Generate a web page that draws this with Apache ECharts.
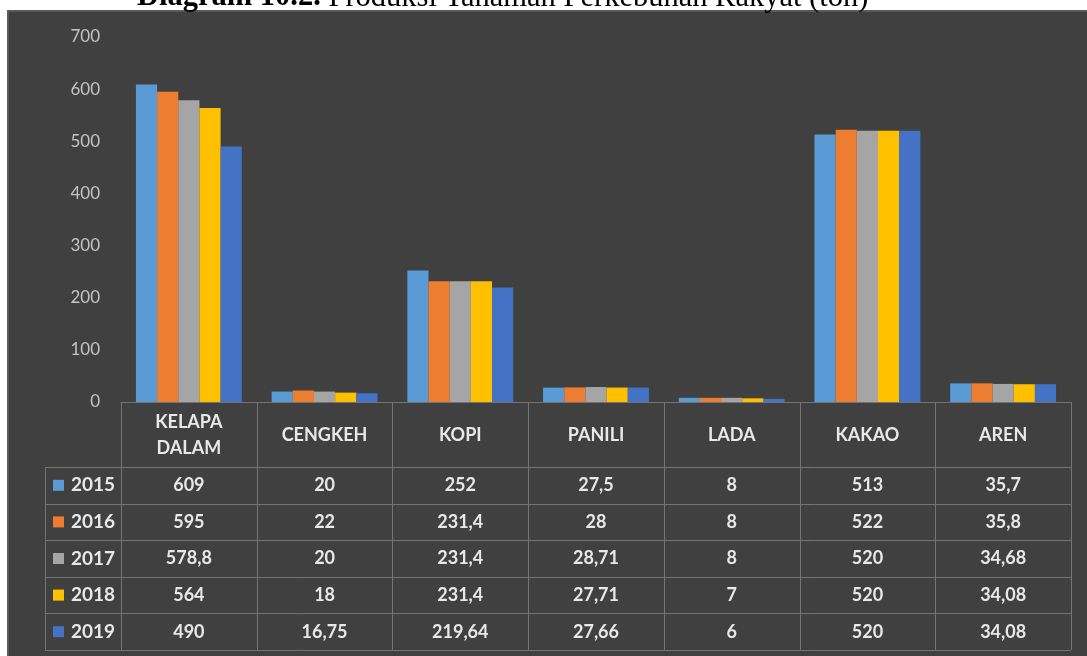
<!DOCTYPE html>
<html>
<head>
<meta charset="utf-8">
<script src="https://cdn.jsdelivr.net/npm/echarts@6/dist/echarts.min.js"></script>
<style>
  html, body { margin: 0; padding: 0; background: #ffffff; }
  #chart { width: 1087px; height: 656px; }
</style>
</head>
<body>
<div id="chart"></div>
<script>
// Produksi tanaman perkebunan rakyat (ton), 2015–2019
const categories = ['KELAPA\nDALAM', 'CENGKEH', 'KOPI', 'PANILI', 'LADA', 'KAKAO', 'AREN'];
const years = ['2015', '2016', '2017', '2018', '2019'];
const v2015 = [609, 20, 252, 27.5, 8, 513, 35.7];
const v2016 = [595, 22, 231.4, 28, 8, 522, 35.8];
const v2017 = [578.8, 20, 231.4, 28.71, 8, 520, 34.68];
const v2018 = [564, 18, 231.4, 27.71, 7, 520, 34.08];
const v2019 = [490, 16.75, 219.64, 27.66, 6, 520, 34.08];
const yTicks = { min: 0, max: 700, interval: 100 };

const seriesValues = [v2015, v2016, v2017, v2018, v2019];
const colors = ['#5B9BD5', '#ED7D31', '#A5A5A5', '#FFC000', '#4472C4'];
const FONT = 'Lato, "Open Sans", sans-serif';
const TEXT = '#E8E8E8';
const LINE = '#737373';

const chart = echarts.init(document.getElementById('chart'), null, { renderer: 'canvas' });

const fmt = v => String(v).replace('.', ',');

chart.setOption({
  animation: false,
  color: colors,
  grid: { left: 121, right: 16, top: 37, bottom: 254, containLabel: false },
  xAxis: {
    type: 'category',
    data: categories,
    axisLine: { show: true, lineStyle: { color: LINE, width: 1 } },
    axisTick: { show: false },
    splitLine: { show: false },
    axisLabel: {
      interval: 0,
      margin: 33,
      verticalAlign: 'middle',
      color: TEXT,
      fontFamily: FONT,
      fontWeight: 'bold',
      fontSize: 18,
      lineHeight: 26
    }
  },
  yAxis: {
    type: 'value',
    min: yTicks.min,
    max: yTicks.max,
    interval: yTicks.interval,
    axisLine: { show: false },
    axisTick: { show: false },
    splitLine: { show: false },
    axisLabel: { color: '#C4C4C4', fontFamily: FONT, fontSize: 17, margin: 21 }
  },
  series: years.map((y, i) => ({
    name: y,
    type: 'bar',
    data: seriesValues[i],
    barGap: '0%',
    barCategoryGap: '22%',
    itemStyle: { color: colors[i] },
    z: 3
  }))
});

// Data table under the axis, aligned to the category bands
function buildTable() {
  const c0 = chart.convertToPixel({ xAxisIndex: 0 }, 0);
  const c1 = chart.convertToPixel({ xAxisIndex: 0 }, 1);
  const band = c1 - c0;
  const axisY = chart.convertToPixel({ yAxisIndex: 0 }, 0);
  const plotLeft = c0 - band / 2;
  const plotRight = plotLeft + band * categories.length;
  const tableLeft = 45;
  const headerBottom = 467;
  const rowH = 36.6;
  const tableBottom = headerBottom + rowH * years.length;

  const g = [];
  // dark panel
  g.push({
    type: 'rect', z: -10, silent: true,
    shape: { x: 8, y: 11, width: 1100, height: 700 },
    style: { fill: '#404040', stroke: '#5A5A5A', lineWidth: 2 }
  });
  // title (sits above the panel)
  g.push({
    type: 'text', z: -5, silent: true,
    style: {
      x: 137, y: 13, verticalAlign: 'bottom', align: 'left',
      rich: {
        b: { fontFamily: '"Liberation Serif", "Times New Roman", serif', fontWeight: 'bold', fontSize: 30.5, fill: '#000' },
        n: { fontFamily: '"Liberation Serif", "Times New Roman", serif', fontSize: 30.5, fill: '#000' }
      },
      text: '{b|Diagram 10.2.}{n| Produksi Tanaman Perkebunan Rakyat (ton)}'
    }
  });
  // vertical rules
  for (let k = 0; k <= categories.length; k++) {
    const x = Math.round(plotLeft + band * k) + 0.5;
    g.push({ type: 'line', silent: true, shape: { x1: x, y1: axisY, x2: x, y2: tableBottom }, style: { stroke: LINE, lineWidth: 1 } });
  }
  g.push({ type: 'line', silent: true, shape: { x1: tableLeft + 0.5, y1: headerBottom, x2: tableLeft + 0.5, y2: tableBottom }, style: { stroke: LINE, lineWidth: 1 } });
  // horizontal rules
  for (let r = 0; r <= years.length; r++) {
    const y = Math.round(headerBottom + rowH * r) + 0.5;
    g.push({ type: 'line', silent: true, shape: { x1: tableLeft, y1: y, x2: plotRight, y2: y }, style: { stroke: LINE, lineWidth: 1 } });
  }
  // rows: legend key, year, values
  years.forEach((yr, r) => {
    const cy = headerBottom + rowH * r + rowH / 2;
    g.push({ type: 'rect', silent: true, shape: { x: 53, y: cy - 5.5, width: 11, height: 11 }, style: { fill: colors[r] } });
    g.push({
      type: 'text', silent: true,
      style: { x: 71, y: cy, text: yr, align: 'left', verticalAlign: 'middle', fill: TEXT, fontFamily: FONT, fontWeight: 'bold', fontSize: 19 }
    });
    seriesValues[r].forEach((v, ci) => {
      g.push({
        type: 'text', silent: true,
        style: { x: c0 + band * ci, y: cy, text: fmt(v), align: 'center', verticalAlign: 'middle', fill: TEXT, fontFamily: FONT, fontWeight: 'bold', fontSize: 18 }
      });
    });
  });
  chart.setOption({ graphic: g });
}
buildTable();
</script>
</body>
</html>
